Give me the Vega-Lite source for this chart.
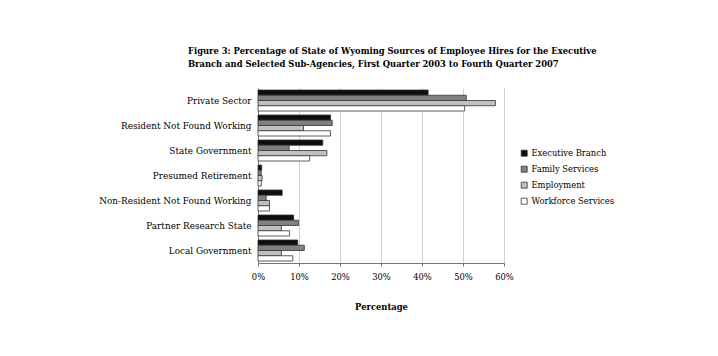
{
  "$schema": "https://vega.github.io/schema/vega-lite/v6.json",
  "width": 246,
  "height": 175,
  "autosize": {"type": "none"},
  "padding": {"left": 258, "top": 88, "right": 214, "bottom": 93},
  "background": "white",
  "title": {
    "text": ["Figure 3: Percentage of State of Wyoming Sources of Employee Hires for the Executive", "Branch and Selected Sub-Agencies, First Quarter 2003 to Fourth Quarter 2007"],
    "font": "DejaVu Serif",
    "fontSize": 8.4,
    "fontWeight": "bold",
    "color": "#000",
    "anchor": "start",
    "frame": "group",
    "dx": -70,
    "offset": 20,
    "lineHeight": 13
  },
  "data": {
    "values": [
      {"source": "Private Sector", "series": "Executive Branch", "value": 41.5},
      {"source": "Private Sector", "series": "Family Services", "value": 50.8},
      {"source": "Private Sector", "series": "Employment", "value": 57.9},
      {"source": "Private Sector", "series": "Workforce Services", "value": 50.4},
      {"source": "Resident Not Found Working", "series": "Executive Branch", "value": 17.7},
      {"source": "Resident Not Found Working", "series": "Family Services", "value": 18.1},
      {"source": "Resident Not Found Working", "series": "Employment", "value": 11.1},
      {"source": "Resident Not Found Working", "series": "Workforce Services", "value": 17.7},
      {"source": "State Government", "series": "Executive Branch", "value": 15.8},
      {"source": "State Government", "series": "Family Services", "value": 7.6},
      {"source": "State Government", "series": "Employment", "value": 16.8},
      {"source": "State Government", "series": "Workforce Services", "value": 12.6},
      {"source": "Presumed Retirement", "series": "Executive Branch", "value": 0.9},
      {"source": "Presumed Retirement", "series": "Family Services", "value": 0.8},
      {"source": "Presumed Retirement", "series": "Employment", "value": 1.0},
      {"source": "Presumed Retirement", "series": "Workforce Services", "value": 0.8},
      {"source": "Non-Resident Not Found Working", "series": "Executive Branch", "value": 5.9},
      {"source": "Non-Resident Not Found Working", "series": "Family Services", "value": 2.0},
      {"source": "Non-Resident Not Found Working", "series": "Employment", "value": 2.8},
      {"source": "Non-Resident Not Found Working", "series": "Workforce Services", "value": 2.8},
      {"source": "Partner Research State", "series": "Executive Branch", "value": 8.7},
      {"source": "Partner Research State", "series": "Family Services", "value": 9.9},
      {"source": "Partner Research State", "series": "Employment", "value": 5.7},
      {"source": "Partner Research State", "series": "Workforce Services", "value": 7.7},
      {"source": "Local Government", "series": "Executive Branch", "value": 9.7},
      {"source": "Local Government", "series": "Family Services", "value": 11.3},
      {"source": "Local Government", "series": "Employment", "value": 5.7},
      {"source": "Local Government", "series": "Workforce Services", "value": 8.5}
    ]
  },
  "mark": {"type": "bar", "stroke": "#333", "strokeWidth": 0.8},
  "encoding": {
    "y": {
      "field": "source",
      "type": "nominal",
      "sort": ["Private Sector", "Resident Not Found Working", "State Government", "Presumed Retirement", "Non-Resident Not Found Working", "Partner Research State", "Local Government"],
      "scale": {"paddingInner": 0.16, "paddingOuter": 0.08},
      "axis": {
        "title": null,
        "labelFont": "DejaVu Serif",
        "labelFontSize": 8.9,
        "labelColor": "#000",
        "ticks": false,
        "labelPadding": 7,
        "domainColor": "#777",
        "grid": false
      }
    },
    "yOffset": {
      "field": "series",
      "type": "nominal",
      "sort": ["Executive Branch", "Family Services", "Employment", "Workforce Services"],
      "scale": {"paddingInner": 0, "paddingOuter": 0}
    },
    "x": {
      "field": "value",
      "type": "quantitative",
      "scale": {"domain": [0, 60], "nice": false},
      "axis": {
        "title": "Percentage",
        "titleFont": "DejaVu Serif",
        "titleFontSize": 8.4,
        "titleFontWeight": "bold",
        "titleColor": "#000",
        "titlePadding": 22,
        "labelFont": "DejaVu Serif",
        "labelFontSize": 8.4,
        "labelColor": "#000",
        "labelPadding": 6,
        "labelFlush": false,
        "values": [0, 10, 20, 30, 40, 50, 60],
        "labelExpr": "datum.value + '%'",
        "ticks": true,
        "tickSize": 3,
        "tickColor": "#777",
        "domainColor": "#777",
        "grid": true,
        "gridColor": "#d0d0d0",
        "gridWidth": 1
      }
    },
    "color": {
      "field": "series",
      "type": "nominal",
      "sort": ["Executive Branch", "Family Services", "Employment", "Workforce Services"],
      "scale": {
        "domain": ["Executive Branch", "Family Services", "Employment", "Workforce Services"],
        "range": ["#0d0d0d", "#808080", "#c0c0c0", "#ffffff"]
      },
      "legend": {
        "title": null,
        "orient": "none",
        "legendX": 262,
        "legendY": 61,
        "symbolType": "square",
        "symbolSize": 36,
        "symbolStrokeColor": "#333",
        "symbolStrokeWidth": 0.8,
        "labelFont": "DejaVu Serif",
        "labelFontSize": 8.4,
        "labelColor": "#000",
        "rowPadding": 6,
        "labelOffset": 3
      }
    }
  },
  "config": {
    "view": {"stroke": null}
  }
}
